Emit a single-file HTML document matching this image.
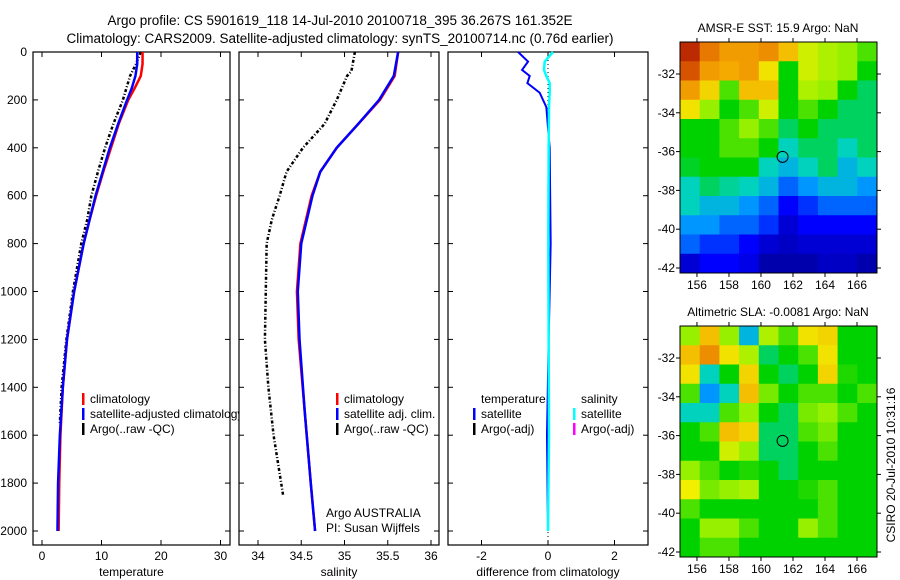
<!DOCTYPE html>
<html><head><meta charset="utf-8"><style>
body{margin:0;background:#fff;}
svg{display:block;font-family:"Liberation Sans",sans-serif;}
</style></head><body>
<svg id="c" width="900" height="580" viewBox="0 0 900 580">
<text x="340" y="25" font-size="13.5" text-anchor="middle">Argo profile: CS 5901619_118 14-Jul-2010 20100718_395 36.267S 161.352E</text>
<text x="340" y="43" font-size="13.5" text-anchor="middle">Climatology: CARS2009. Satellite-adjusted climatology: synTS_20100714.nc (0.76d earlier)</text>
</svg>
<script>
// ---- data ----
const depthT=[0,50,100,150,200,300,400,500,600,700,800,900,1000,1200,1400,1600,1800,2000];
const tempClim=[16.9,16.9,16.6,15.6,14.5,12.9,11.6,10.3,9.1,8.0,7.0,6.2,5.4,4.2,3.5,3.1,2.9,2.8];
const tempSat=[16.0,16.0,15.7,15.1,14.3,12.8,11.4,10.2,9.0,8.0,7.0,6.2,5.4,4.2,3.5,3.0,2.7,2.6];
const depthArgoT=[0,50,100,150,200,300,400,500,600,700,800,900,1000,1200,1400,1550];
const tempArgo=[16.6,15.8,14.8,14.2,13.6,12.0,10.6,9.4,8.3,7.6,6.6,5.9,5.2,4.1,3.3,3.0];
const depthS=[0,100,200,300,400,500,600,800,1000,1200,1500,1800,2000];
const salClim=[35.62,35.58,35.41,35.16,34.91,34.72,34.62,34.49,34.45,34.47,34.54,34.61,34.66];
const salSat=[35.62,35.57,35.40,35.16,34.91,34.72,34.63,34.50,34.46,34.48,34.54,34.61,34.66];
const depthArgoS=[0,80,100,200,300,400,500,600,700,800,1000,1200,1400,1600,1850];
const salArgo=[35.12,35.08,35.03,34.91,34.77,34.52,34.33,34.25,34.16,34.10,34.09,34.08,34.12,34.18,34.29];
const depthD=[0,40,75,100,130,170,230,400,800,1200,1600,2000];
const diffTemp=[-0.9,-0.6,-0.78,-0.55,-0.62,-0.25,-0.05,0.05,0.08,0.02,-0.03,0];
const diffSal=[0.15,-0.1,-0.12,-0.05,0.05,0.05,0.03,0.02,0.01,0.02,0.03,0];
const depthTicks=[0,200,400,600,800,1000,1200,1400,1600,1800,2000];
const tTicks=[0,10,20,30];
const sTicks=[34,34.5,35,35.5,36];
const sTickLabels=["34","34.5","35","35.5","36"];
const dTicks=[-2,0,2];
const latTicks=[-32,-34,-36,-38,-40,-42];
const lonTicks=[156,158,160,162,164,166];
const sstGrid=[
[.95,.85,.8,.8,.82,.75,.65,.62,.6,.55],
[.9,.8,.78,.8,.7,.5,.65,.62,.6,.5],
[.8,.72,.55,.75,.75,.5,.62,.6,.5,.45],
[.7,.6,.5,.55,.65,.5,.55,.5,.45,.45],
[.5,.5,.55,.6,.55,.45,.5,.45,.45,.45],
[.5,.5,.55,.55,.5,.4,.45,.45,.4,.45],
[.48,.5,.5,.5,.4,.35,.4,.45,.35,.4],
[.4,.45,.42,.4,.35,.25,.3,.35,.35,.3],
[.4,.35,.35,.3,.25,.15,.2,.25,.25,.25],
[.3,.3,.25,.25,.2,.1,.15,.15,.15,.15],
[.25,.2,.2,.15,.1,.08,.1,.1,.1,.1],
[.1,.15,.15,.12,.05,.05,.05,.08,.08,.05]];
const slaGrid=[
[.6,.75,.6,.35,.62,.55,.7,.72,.5,.5],
[.75,.82,.7,.62,.45,.5,.55,.7,.5,.5],
[.7,.4,.5,.72,.5,.45,.5,.72,.52,.5],
[.55,.3,.4,.75,.58,.5,.55,.55,.5,.55],
[.4,.4,.55,.6,.5,.45,.58,.6,.55,.5],
[.5,.55,.75,.72,.45,.45,.55,.58,.5,.5],
[.5,.5,.65,.6,.45,.45,.5,.55,.5,.5],
[.6,.55,.5,.52,.5,.45,.5,.5,.5,.5],
[.68,.58,.6,.62,.5,.5,.52,.55,.5,.5],
[.55,.5,.5,.5,.5,.5,.5,.55,.5,.5],
[.5,.6,.6,.55,.5,.5,.6,.55,.5,.5],
[.5,.55,.55,.5,.5,.5,.5,.5,.5,.5]];
const floatLon=161.35, floatLat=-36.27;

const S=document.getElementById('c');const NS='http://www.w3.org/2000/svg';
function E(t,a,p){const e=document.createElementNS(NS,t);for(const k in a)e.setAttribute(k,a[k]);(p||S).appendChild(e);return e;}
const yD=d=>52+d*0.2395;
const TOP=52,BOT=545;
function panel(name,x0,x1,xf,ticks,labels,xlabel){
  const g=E('g',{});
  
  
  E('rect',{x:x0,y:TOP,width:x1-x0,height:BOT-TOP,fill:'#fff',stroke:'#000','stroke-width':1.2},g);
  ticks.forEach((t,i)=>{const x=xf(t);
    E('line',{x1:x,x2:x,y1:BOT,y2:BOT-5,stroke:'#000'},g);E('line',{x1:x,x2:x,y1:TOP,y2:TOP+5,stroke:'#000'},g);
    const tx=E('text',{x:x,y:BOT+15,'font-size':12,'text-anchor':'middle'},g);tx.textContent=labels[i];});
  depthTicks.forEach(d=>{const y=yD(d);E('line',{x1:x0,x2:x0+5,y1:y,y2:y,stroke:'#000'},g);E('line',{x1:x1,x2:x1-5,y1:y,y2:y,stroke:'#000'},g);});
  const xl=E('text',{x:(x0+x1)/2,y:BOT+31,'font-size':12,'text-anchor':'middle'},g);xl.textContent=xlabel;
  return g;}
function line(g,xs,ds,xf,col,w,dash,name){
  const p=E('polyline',{points:xs.map((v,i)=>xf(v)+','+yD(ds[i])).join(' '),fill:'none',stroke:col,'stroke-width':w},g);
  if(dash)p.setAttribute('stroke-dasharray',dash);
  
  }
function txt(g,x,y,s,size,anchor){const t=E('text',{x:x,y:y,'font-size':size||12,'text-anchor':anchor||'start'},g);t.textContent=s;return t;}
function legend(g,x,y,col,label,name){E('rect',{x:x,y:y-10,width:2.5,height:12,fill:col},g);const t=txt(g,x+8,y,label);
  
  }

// panel 1 temperature
const xT=v=>42+v*5.95;
const g1=panel('temperature-panel',33,230,xT,tTicks,tTicks.map(String),'temperature');
depthTicks.forEach(d=>txt(S,27,yD(d)+4,String(d),12,'end'));
line(g1,tempArgo,depthArgoT,xT,'#000',2.5,'3 2 1 2','argo-temperature');
line(g1,tempClim,depthT,xT,'#f00',2.5,null,'climatology-temperature');
line(g1,tempSat,depthT,xT,'#00f',2.5,null,'satellite-temperature');
legend(g1,82,403,'#f00','climatology','legend-climatology');
legend(g1,82,418,'#00f','satellite-adjusted climatology','legend-satellite-adjusted');
legend(g1,82,433,'#000','Argo(..raw -QC)','legend-argo');

// panel 2 salinity
const xS=v=>258+(v-34)*86.5;
const g2=panel('salinity-panel',239,439,xS,sTicks,sTickLabels,'salinity');
line(g2,salArgo,depthArgoS,xS,'#000',2.5,'3 2 1 2','argo-salinity');
line(g2,salClim,depthS,xS,'#f00',2.5,null,'climatology-salinity');
line(g2,salSat,depthS,xS,'#00f',2.5,null,'satellite-salinity');
legend(g2,336,403,'#f00','climatology','legend-sal-climatology');
legend(g2,336,418,'#00f','satellite adj. clim.','legend-sal-satellite');
legend(g2,336,433,'#000','Argo(..raw -QC)','legend-sal-argo');
txt(g2,326,517,'Argo AUSTRALIA');txt(g2,326,532,'PI: Susan Wijffels');

// panel 3 difference
const xDf=v=>548+v*33.25;
const g3=panel('difference-panel',448,648,xDf,dTicks,dTicks.map(String),'difference from climatology');
E('line',{x1:xDf(0),x2:xDf(0),y1:TOP,y2:BOT,stroke:'#000','stroke-dasharray':'1 3'},g3);
line(g3,diffTemp,depthD,xDf,'#00f',2,null,'temperature-difference');
line(g3,diffSal,depthD,xDf,'#0ff',2.5,null,'salinity-difference');
txt(g3,481,403,'temperature');txt(g3,581,403,'salinity');
legend(g3,473,418,'#00f','satellite','legend-temp-satellite');
legend(g3,473,433,'#000','Argo(-adj)','legend-temp-argo');
legend(g3,573,418,'#0ff','satellite','legend-sal-satellite-diff');
legend(g3,573,433,'#f0f','Argo(-adj)','legend-sal-argo-diff');

// maps
const cmapStops=[[0,[0,0,130]],[0.15,[0,0,255]],[0.3,[0,150,255]],[0.4,[0,210,190]],[0.5,[0,210,0]],[0.6,[150,240,0]],[0.68,[240,240,0]],[0.78,[245,170,0]],[0.88,[225,100,0]],[1,[160,0,0]]];
function jet(v){v=Math.max(0,Math.min(1,v));
  for(let i=1;i<cmapStops.length;i++){const a=cmapStops[i-1],b=cmapStops[i];
    if(v<=b[0]){const f=(v-a[0])/(b[0]-a[0]);const c=a[1].map((x,k)=>Math.round(x+(b[1][k]-x)*f));return 'rgb('+c.join(',')+')';}}
  return 'rgb(160,0,0)';}
function map(name,grid,top,title){
  const L=680,R=877,B=top+231;const lon0=154.94,lon1=167.25;const yLat0=top+32,ppd=19.4;
  const xL=lon=>L+(lon-lon0)*(R-L)/(lon1-lon0);
  const yL=lat=>yLat0+(-32-lat)*ppd;
  const g=E('g',{});
  
  
  const latTop=-32+(yLat0-top)/ppd, latBot=-32-(B-yLat0)/ppd;
  const nr=grid.length,nc=grid[0].length;
  for(let r=0;r<nr;r++)for(let c=0;c<nc;c++){
    const la0=latTop+(latBot-latTop)*r/nr,la1=latTop+(latBot-latTop)*(r+1)/nr;
    const lo0=lon0+(lon1-lon0)*c/nc,lo1=lon0+(lon1-lon0)*(c+1)/nc;
    const cell=E('rect',{x:xL(lo0),y:yL(la0),width:xL(lo1)-xL(lo0)+0.5,height:yL(la1)-yL(la0)+0.5,fill:jet(grid[r][c])},g);
    
    }
  E('rect',{x:L,y:top,width:R-L,height:B-top,fill:'none',stroke:'#000'},g);
  latTicks.forEach(t=>{const y=yL(t);E('line',{x1:L,x2:L-4,y1:y,y2:y,stroke:'#000'},g);E('line',{x1:R,x2:R+4,y1:y,y2:y,stroke:'#000'},g);txt(g,L-5,y+4,String(t),12,'end');});
  lonTicks.forEach(t=>{const x=xL(t);E('line',{x1:x,x2:x,y1:B,y2:B+4,stroke:'#000'},g);E('line',{x1:x,x2:x,y1:top,y2:top-4,stroke:'#000'},g);txt(g,x,B+16,String(t),12,'middle');});
  const c=E('circle',{cx:xL(floatLon),cy:yL(floatLat),r:5.5,fill:'none',stroke:'#000','stroke-width':1},g);
  
  
  const t=txt(g,778,top-10,title,12,'middle');
  
  }
map('sst-map',sstGrid,42,'AMSR-E SST: 15.9  Argo: NaN');
map('sla-map',slaGrid,326,'Altimetric SLA: -0.0081  Argo: NaN');
const st=txt(S,0,0,'CSIRO 20-Jul-2010 10:31:16',12,'middle');
st.setAttribute('transform','translate(895,465) rotate(-90)');


</script>
</body></html>
